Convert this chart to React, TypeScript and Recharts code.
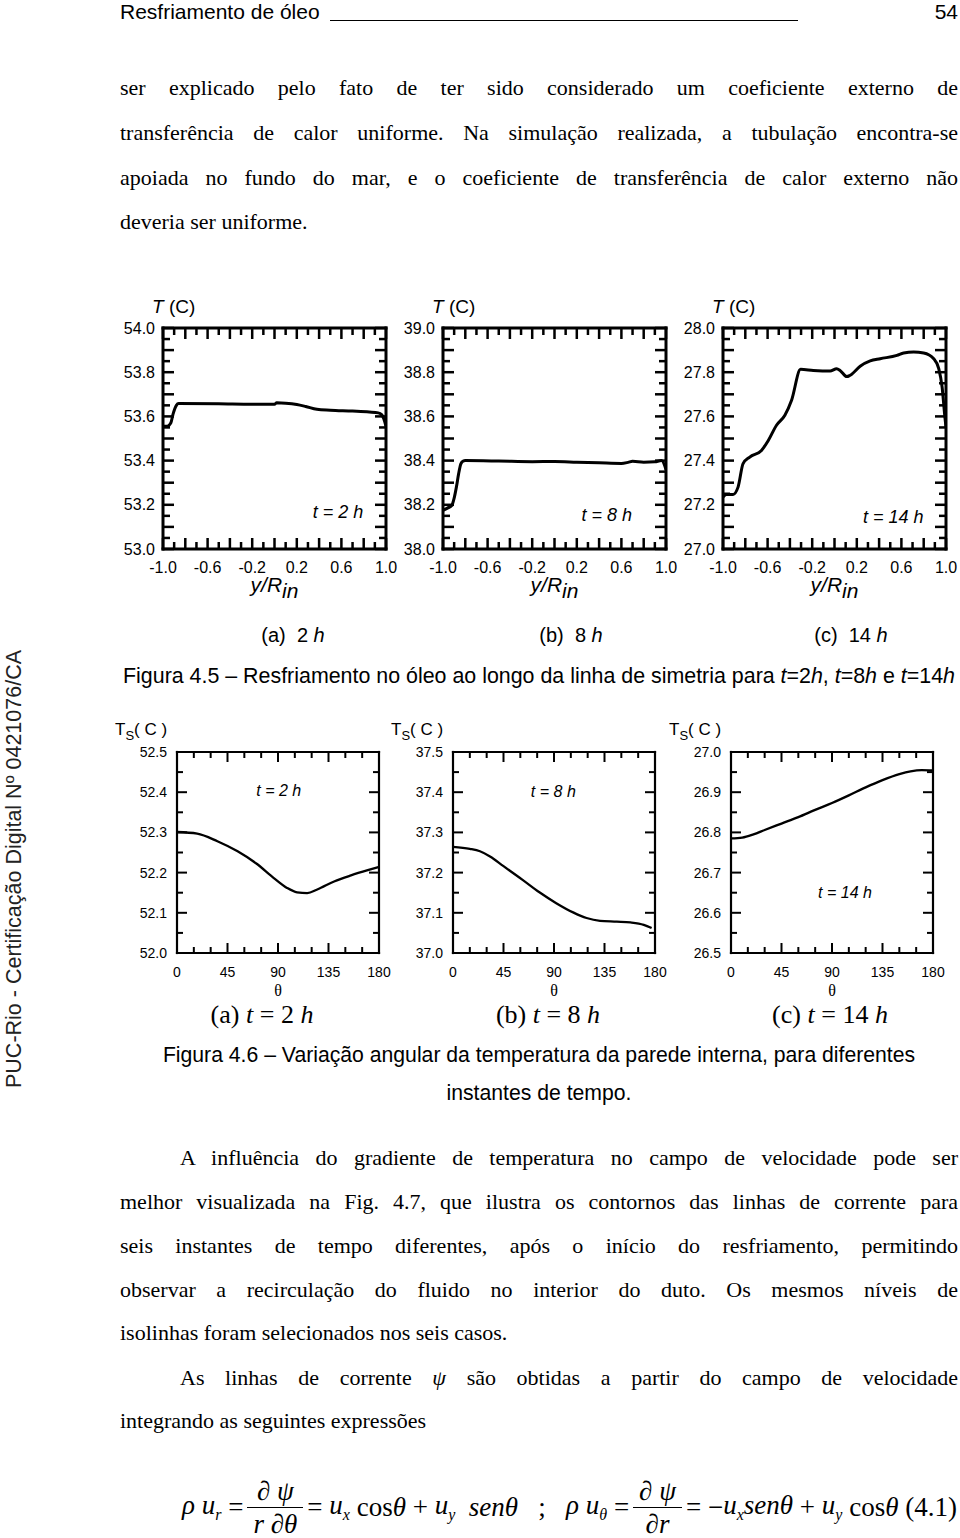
import React from "react";
import { LineChart, Line, XAxis, YAxis, ReferenceDot } from "recharts";

const serif = "'Liberation Serif', 'Times New Roman', serif";
const sans = "'Liberation Sans', Arial, Helvetica, sans-serif";

// Figura 4.5 - temperatura ao longo da linha de simetria (y/Rin)
const yRin2h = [-1.0, -0.96, -0.93, -0.91, -0.88, -0.86, -0.5, -0.2, 0.0, 0.02, 0.1, 0.2, 0.28, 0.38, 0.5, 0.7, 0.85, 0.93, 0.96, 0.98, 1.0];
const temp2h = [53.555, 53.556, 53.57, 53.61, 53.65, 53.658, 53.657, 53.655, 53.655, 53.662, 53.66, 53.654, 53.645, 53.632, 53.628, 53.624, 53.62, 53.616, 53.608, 53.59, 53.555];

const yRin8h = [-1.0, -0.96, -0.92, -0.9, -0.88, -0.86, -0.84, -0.82, -0.8, -0.5, -0.2, 0.0, 0.2, 0.4, 0.6, 0.66, 0.7, 0.8, 0.9, 0.96, 1.0];
const temp8h = [38.175, 38.185, 38.198, 38.23, 38.28, 38.34, 38.385, 38.398, 38.4, 38.398, 38.395, 38.396, 38.393, 38.39, 38.387, 38.392, 38.397, 38.393, 38.395, 38.4, 38.36];

const yRin14h = [-1.0, -0.97, -0.91, -0.865, -0.82, -0.76, -0.655, -0.595, -0.52, -0.445, -0.385, -0.304, -0.19, -0.04, 0.02, 0.05, 0.11, 0.14, 0.23, 0.32, 0.41, 0.56, 0.62, 0.71, 0.8, 0.89, 0.935, 0.965, 0.99, 1.0];
const temp14h = [27.235, 27.247, 27.247, 27.28, 27.386, 27.416, 27.446, 27.49, 27.56, 27.605, 27.673, 27.813, 27.808, 27.805, 27.816, 27.808, 27.78, 27.786, 27.827, 27.851, 27.861, 27.876, 27.887, 27.891, 27.887, 27.861, 27.816, 27.733, 27.597, 27.552];

// Figura 4.6 - temperatura da parede interna vs theta
const theta2h = [0, 18, 36, 54, 71, 86, 98, 107, 116, 125, 140, 155, 170, 180];
const ts2h = [52.301, 52.297, 52.278, 52.253, 52.222, 52.187, 52.162, 52.151, 52.149, 52.158, 52.178, 52.193, 52.206, 52.214];

const theta8h = [0, 15, 24, 33, 45, 62, 77, 92, 107, 119, 131, 146, 158, 170, 177];
const ts8h = [37.264, 37.259, 37.253, 37.24, 37.216, 37.182, 37.151, 37.124, 37.101, 37.087, 37.08, 37.078, 37.076, 37.07, 37.062];

const theta14h = [0, 10, 20, 30, 45, 60, 75, 90, 105, 120, 135, 150, 160, 170, 180];
const ts14h = [26.785, 26.787, 26.795, 26.806, 26.822, 26.838, 26.856, 26.873, 26.892, 26.912, 26.93, 26.945, 26.952, 26.955, 26.954];

// tick labels
const yRinLabels = [-1.0, -0.6, -0.2, 0.2, 0.6, 1.0];
const thetaLabels = [0, 45, 90, 135, 180];
const temp2hLabels = [53.0, 53.2, 53.4, 53.6, 53.8, 54.0];
const temp8hLabels = [38.0, 38.2, 38.4, 38.6, 38.8, 39.0];
const temp14hLabels = [27.0, 27.2, 27.4, 27.6, 27.8, 28.0];
const ts2hLabels = [52.0, 52.1, 52.2, 52.3, 52.4, 52.5];
const ts8hLabels = [37.0, 37.1, 37.2, 37.3, 37.4, 37.5];
const ts14hLabels = [26.5, 26.6, 26.7, 26.8, 26.9, 27.0];

const steps = (lo: number, hi: number, step: number) => {
  const n = Math.round((hi - lo) / step);
  return Array.from({ length: n + 1 }, (_, i) => +(lo + i * step).toFixed(4));
};
const has = (list: number[], v: number) => list.some((m) => Math.abs(m - v) < 1e-6);
const zip = (xs: number[], ys: number[]) => xs.map((x, i) => ({ x, y: ys[i] }));

type Style = {
  plotW: number; plotH: number; leftW: number; topM: number; rightM: number; bottomH: number;
  majLen: number; minLen: number; tickW: number; frameW: number; lineW: number;
  font: number; xGap: number; yGap: number; noteFont: number;
};

const TOP: Style = { plotW: 223, plotH: 221, leftW: 60, topM: 40, rightM: 14, bottomH: 62, majLen: 11, minLen: 7, tickW: 2.5, frameW: 3, lineW: 3, font: 16, xGap: 18, yGap: 8, noteFont: 18 };
const BOT: Style = { plotW: 202, plotH: 201, leftW: 62, topM: 40, rightM: 12, bottomH: 50, majLen: 10, minLen: 6, tickW: 2, frameW: 2.2, lineW: 2.3, font: 14, xGap: 19, yGap: 10, noteFont: 16 };

type Side = "bottom" | "top" | "left" | "right";

// inward tick marks (short every step, long on majors), labels outside the frame
function axisTick(side: Side, major: number[], labels: number[], digits: number, st: Style, gap: number) {
  return (p: any) => {
    const { x, y, payload } = p;
    const v = Number(payload.value);
    const len = has(major, v) ? st.majLen : st.minLen;
    const txt = has(labels, v) ? v.toFixed(digits) : "";
    let mark: React.ReactNode = null;
    let label: React.ReactNode = null;
    const ls = { stroke: "#000", strokeWidth: st.tickW };
    if (side === "bottom") {
      const y0 = y - gap;
      mark = <line x1={x} x2={x} y1={y0} y2={y0 - len} {...ls} />;
      if (txt) label = <text x={x} y={y} textAnchor="middle" dominantBaseline="central">{txt}</text>;
    } else if (side === "top") {
      mark = <line x1={x} x2={x} y1={y} y2={y + len} {...ls} />;
    } else if (side === "left") {
      const x0 = x + gap;
      mark = <line x1={x0} x2={x0 + len} y1={y} y2={y} {...ls} />;
      if (txt) label = <text x={x} y={y} textAnchor="end" dominantBaseline="central">{txt}</text>;
    } else {
      mark = <line x1={x} x2={x - len} y1={y} y2={y} {...ls} />;
    }
    return (
      <g fill="#000" fontFamily={sans} fontSize={st.font}>
        {mark}
        {label}
      </g>
    );
  };
}

type PanelProps = {
  px: number; py: number; st: Style;
  xs: number[]; ys: number[];
  xDomain: [number, number]; yDomain: [number, number];
  xTicks: number[]; xMajor: number[]; xLabels: number[]; xDigits: number;
  yTicks: number[]; yMajor: number[]; yLabels: number[];
  note: { x: number; y: number; text: string };
  xTitle: React.ReactNode; yTitle: React.ReactNode;
};

function Panel(props: PanelProps) {
  const { px, py, st, xs, ys, xDomain, yDomain, xTicks, xMajor, xLabels, xDigits, yTicks, yMajor, yLabels, note } = props;
  const width = st.leftW + st.plotW + 1 + st.rightM;
  const height = st.topM + 1 + st.plotH + st.bottomH;
  const frame = { stroke: "#000", strokeWidth: st.frameW, strokeLinecap: "square" as const };
  return (
    <div style={{ position: "absolute", left: px - st.leftW, top: py - st.topM - 1, width, height }}>
      <LineChart width={width} height={height} data={zip(xs, ys)} margin={{ top: st.topM, right: st.rightM, bottom: 0, left: 0 }}>
        <XAxis xAxisId="b" dataKey="x" type="number" domain={xDomain} allowDataOverflow ticks={xTicks} interval={0} height={st.bottomH}
          tickSize={0} tickMargin={st.xGap} tickLine={false} axisLine={frame} tick={axisTick("bottom", xMajor, xLabels, xDigits, st, st.xGap)} />
        <XAxis xAxisId="t" dataKey="x" orientation="top" type="number" domain={xDomain} allowDataOverflow ticks={xTicks} interval={0} height={1}
          tickSize={0} tickMargin={0} tickLine={false} axisLine={frame} tick={axisTick("top", xMajor, [], 0, st, 0)} />
        <YAxis yAxisId="l" type="number" domain={yDomain} allowDataOverflow ticks={yTicks} interval={0} width={st.leftW}
          tickSize={0} tickMargin={st.yGap} tickLine={false} axisLine={frame} tick={axisTick("left", yMajor, yLabels, 1, st, st.yGap)} />
        <YAxis yAxisId="r" orientation="right" type="number" domain={yDomain} allowDataOverflow ticks={yTicks} interval={0} width={1}
          tickSize={0} tickMargin={0} tickLine={false} axisLine={frame} tick={axisTick("right", yMajor, [], 1, st, 0)} />
        {/* same series bound to the top/right axes so their scales get built; drawn invisibly */}
        <Line xAxisId="t" yAxisId="r" dataKey="y" type="monotone" stroke="transparent" strokeWidth={0} dot={false} activeDot={false} legendType="none" isAnimationActive={false} />
        <Line xAxisId="b" yAxisId="l" dataKey="y" type="monotone" stroke="#000" strokeWidth={st.lineW} dot={false} isAnimationActive={false} />
        <ReferenceDot xAxisId="b" yAxisId="l" x={note.x} y={note.y} r={0} stroke="none" fill="none"
          label={{ value: note.text, position: "center", fill: "#000", fontSize: st.noteFont, fontStyle: "italic", fontFamily: sans }} />
      </LineChart>
      {props.yTitle}
      {props.xTitle}
    </div>
  );
}

const abs = (s: React.CSSProperties): React.CSSProperties => ({ position: "absolute", whiteSpace: "nowrap", ...s });

function TopTitles(st: Style) {
  const pb = st.topM + 1 + st.plotH;
  return {
    yTitle: (
      <div style={abs({ left: st.leftW - 11, top: st.topM + 1 - 31, fontFamily: sans, fontSize: 19, lineHeight: "20px" })}>
        <i>T</i> (C)
      </div>
    ),
    xTitle: (
      <div style={abs({ left: st.leftW, width: st.plotW, top: pb + 25, textAlign: "center", fontFamily: sans, fontSize: 21, lineHeight: "22px", fontStyle: "italic" })}>
        y/R<span style={{ position: "relative", top: 6 }}>in</span>
      </div>
    ),
  };
}

function BotTitles(st: Style) {
  const pb = st.topM + 1 + st.plotH;
  return {
    yTitle: (
      <div style={abs({ left: 0, top: st.topM + 1 - 32, fontFamily: sans, fontSize: 17, lineHeight: "20px" })}>
        T<span style={{ fontSize: 13, position: "relative", top: 5 }}>S</span>( C )
      </div>
    ),
    xTitle: (
      <div style={abs({ left: st.leftW, width: st.plotW, top: pb + 28, textAlign: "center", fontFamily: serif, fontSize: 16, lineHeight: "20px" })}>
        θ
      </div>
    ),
  };
}

const yRinTicks = steps(-1, 1, 0.1);
const yRinMajor = steps(-1, 1, 0.2);
const thetaTicks = steps(0, 180, 15);

function TextRow({ y, x = 120, w = 838, last = false, children }: { y: number; x?: number; w?: number; last?: boolean; children: React.ReactNode }) {
  return (
    <div style={abs({ left: x, top: y - 15, width: w, height: 30, lineHeight: "30px", fontFamily: serif, fontSize: 22, textAlign: "justify", textAlignLast: last ? "left" : "justify" })}>
      {children}
    </div>
  );
}

const Frac = ({ num, den }: { num: React.ReactNode; den: React.ReactNode }) => (
  <span style={{ display: "inline-flex", flexDirection: "column", alignItems: "center", verticalAlign: "middle", margin: "0 4px" }}>
    <span style={{ padding: "0 6px", lineHeight: "32px" }}>{num}</span>
    <span style={{ borderTop: "1.5px solid #000", padding: "0 6px", lineHeight: "32px", alignSelf: "stretch", textAlign: "center" }}>{den}</span>
  </span>
);

const sub = { fontSize: 16 };

export default function App() {
  const tt = TopTitles(TOP);
  const bt = BotTitles(BOT);
  return (
    <div style={{ position: "absolute", left: 0, top: 0, width: 960, height: 1538, background: "#fff", overflow: "hidden", color: "#000" }}>
      {/* header */}
      <div style={abs({ left: 120, top: 0, fontFamily: sans, fontSize: 21, lineHeight: "24px" })}>Resfriamento de óleo</div>
      <div style={abs({ left: 330, top: 20, width: 468, borderTop: "1.5px solid #000" })} />
      <div style={abs({ left: 900, width: 58, top: 0, textAlign: "right", fontFamily: sans, fontSize: 21, lineHeight: "24px" })}>54</div>

      {/* left margin stamp */}
      <div style={abs({ left: 14 - 240, top: 869 - 13, width: 480, height: 26, lineHeight: "26px", textAlign: "center", fontFamily: sans, fontSize: 21.5, color: "#222", transform: "rotate(-90deg)" })}>
        PUC-Rio - Certificação Digital Nº 0421076/CA
      </div>

      <TextRow y={88}>ser explicado pelo fato de ter sido considerado um coeficiente externo de</TextRow>
      <TextRow y={133}>transferência de calor uniforme. Na simulação realizada, a tubulação encontra-se</TextRow>
      <TextRow y={178}>apoiada no fundo do mar, e o coeficiente de transferência de calor externo não</TextRow>
      <TextRow y={222} last>deveria ser uniforme.</TextRow>

      {/* Figura 4.5 */}
      <Panel px={163} py={328} st={TOP} xs={yRin2h} ys={temp2h} xDomain={[-1, 1]} yDomain={[53, 54]}
        xTicks={yRinTicks} xMajor={yRinMajor} xLabels={yRinLabels} xDigits={1}
        yTicks={steps(53, 54, 0.05)} yMajor={steps(53, 54, 0.1)} yLabels={temp2hLabels}
        note={{ x: 0.57, y: 53.169, text: "t = 2 h" }} {...tt} />
      <Panel px={443} py={328} st={TOP} xs={yRin8h} ys={temp8h} xDomain={[-1, 1]} yDomain={[38, 39]}
        xTicks={yRinTicks} xMajor={yRinMajor} xLabels={yRinLabels} xDigits={1}
        yTicks={steps(38, 39, 0.05)} yMajor={steps(38, 39, 0.1)} yLabels={temp8hLabels}
        note={{ x: 0.468, y: 38.154, text: "t = 8 h" }} {...tt} />
      <Panel px={723} py={328} st={TOP} xs={yRin14h} ys={temp14h} xDomain={[-1, 1]} yDomain={[27, 28]}
        xTicks={yRinTicks} xMajor={yRinMajor} xLabels={yRinLabels} xDigits={1}
        yTicks={steps(27, 28, 0.05)} yMajor={steps(27, 28, 0.1)} yLabels={temp14hLabels}
        note={{ x: 0.527, y: 27.146, text: "t = 14 h" }} {...tt} />

      {[["(a)", "2", 293], ["(b)", "8", 571], ["(c)", "14", 851]].map(([a, n, cx]) => (
        <div key={a as string} style={abs({ left: (cx as number) - 60, width: 120, top: 623, lineHeight: "24px", textAlign: "center", fontFamily: sans, fontSize: 20 })}>
          {a}&nbsp; {n} <i>h</i>
        </div>
      ))}
      <div style={abs({ left: 0, width: 1078, top: 664, lineHeight: "24px", textAlign: "center", fontFamily: sans, fontSize: 21.4 })}>
        Figura 4.5 – Resfriamento no óleo ao longo da linha de simetria para <i>t</i>=2<i>h</i>, <i>t</i>=8<i>h</i> e <i>t</i>=14<i>h</i>
      </div>

      {/* Figura 4.6 */}
      <Panel px={177} py={752} st={BOT} xs={theta2h} ys={ts2h} xDomain={[0, 180]} yDomain={[52, 52.5]}
        xTicks={thetaTicks} xMajor={thetaLabels} xLabels={thetaLabels} xDigits={0}
        yTicks={steps(52, 52.5, 0.05)} yMajor={ts2hLabels} yLabels={ts2hLabels}
        note={{ x: 90.7, y: 52.405, text: "t = 2 h" }} {...bt} />
      <Panel px={453} py={752} st={BOT} xs={theta8h} ys={ts8h} xDomain={[0, 180]} yDomain={[37, 37.5]}
        xTicks={thetaTicks} xMajor={thetaLabels} xLabels={thetaLabels} xDigits={0}
        yTicks={steps(37, 37.5, 0.05)} yMajor={ts8hLabels} yLabels={ts8hLabels}
        note={{ x: 89.4, y: 37.401, text: "t = 8 h" }} {...bt} />
      <Panel px={731} py={752} st={BOT} xs={theta14h} ys={ts14h} xDomain={[0, 180]} yDomain={[26.5, 27]}
        xTicks={thetaTicks} xMajor={thetaLabels} xLabels={thetaLabels} xDigits={0}
        yTicks={steps(26.5, 27, 0.05)} yMajor={ts14hLabels} yLabels={ts14hLabels}
        note={{ x: 101.6, y: 26.652, text: "t = 14 h" }} {...bt} />

      {[["(a)", "2", 262], ["(b)", "8", 548], ["(c)", "14", 830]].map(([a, n, cx]) => (
        <div key={"s" + a} style={abs({ left: (cx as number) - 80, width: 160, top: 1000, lineHeight: "30px", textAlign: "center", fontFamily: serif, fontSize: 26 })}>
          {a} <i>t</i> = {n} <i>h</i>
        </div>
      ))}
      <div style={abs({ left: 0, width: 1078, top: 1043, lineHeight: "24px", textAlign: "center", fontFamily: sans, fontSize: 21.2 })}>
        Figura 4.6 – Variação angular da temperatura da parede interna, para diferentes
      </div>
      <div style={abs({ left: 0, width: 1078, top: 1081, lineHeight: "24px", textAlign: "center", fontFamily: sans, fontSize: 21.2 })}>
        instantes de tempo.
      </div>

      <TextRow y={1158} x={180} w={778}>A influência do gradiente de temperatura no campo de velocidade pode ser</TextRow>
      <TextRow y={1202}>melhor visualizada na Fig. 4.7, que ilustra os contornos das linhas de corrente para</TextRow>
      <TextRow y={1246}>seis instantes de tempo diferentes, após o início do resfriamento, permitindo</TextRow>
      <TextRow y={1290}>observar a recirculação do fluido no interior do duto. Os mesmos níveis de</TextRow>
      <TextRow y={1333} last>isolinhas foram selecionados nos seis casos.</TextRow>
      <TextRow y={1378} x={180} w={778}>As linhas de corrente <i>ψ</i> são obtidas a partir do campo de velocidade</TextRow>
      <TextRow y={1421} last>integrando as seguintes expressões</TextRow>

      {/* equação 4.1 */}
      <div style={abs({ left: 182, top: 1475, fontFamily: serif, fontSize: 27, display: "flex", alignItems: "center" })}>
        <i>ρ u<sub style={sub}>r</sub></i>&nbsp;=
        <Frac num={<i>∂ ψ</i>} den={<i>r ∂θ</i>} />
        =&nbsp;<i>u<sub style={sub}>x</sub></i>&nbsp;cos<i>θ</i>&nbsp;+&nbsp;<i>u<sub style={sub}>y</sub></i>&nbsp;&nbsp;<i>senθ</i>
        &nbsp;&nbsp;&nbsp;;&nbsp;&nbsp;&nbsp;
        <i>ρ u<sub style={sub}>θ</sub></i>&nbsp;=
        <Frac num={<i>∂ ψ</i>} den={<i>∂r</i>} />
        =&nbsp;−<i>u<sub style={sub}>x</sub>senθ</i>&nbsp;+&nbsp;<i>u<sub style={sub}>y</sub></i>&nbsp;cos<i>θ</i>&nbsp;(4.1)
      </div>
    </div>
  );
}
